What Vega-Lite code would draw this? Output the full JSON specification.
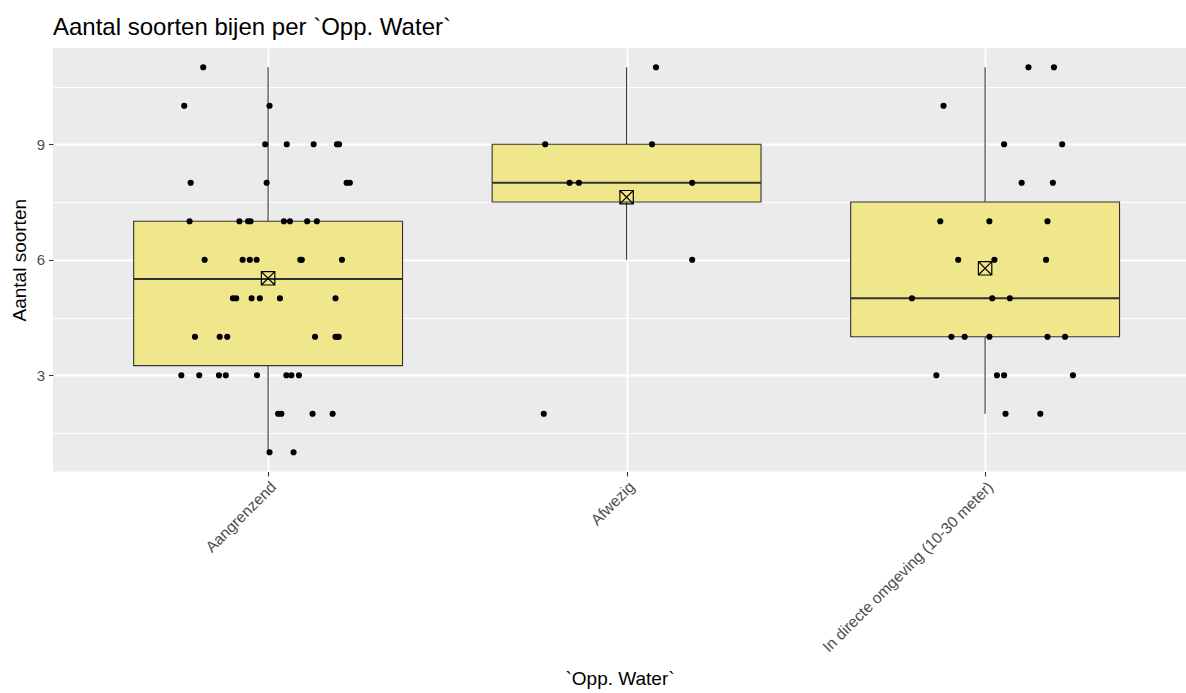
{
  "$schema": "https://vega.github.io/schema/vega-lite/v6.json",
  "width": 1133,
  "height": 423.5,
  "autosize": {"type": "none"},
  "padding": {"left": 53, "top": 48, "right": 0, "bottom": 221.5},
  "background": "white",
  "title": {
    "text": "Aantal soorten bijen per `Opp. Water`",
    "anchor": "start",
    "frame": "group",
    "fontSize": 24,
    "fontWeight": "normal",
    "color": "black",
    "offset": 8
  },
  "datasets": {
    "bees": [
      {"water": "Aangrenzend", "soorten": 11, "jitter": -0.181},
      {"water": "Aangrenzend", "soorten": 10, "jitter": -0.234},
      {"water": "Aangrenzend", "soorten": 10, "jitter": 0.004},
      {"water": "Aangrenzend", "soorten": 9, "jitter": -0.008},
      {"water": "Aangrenzend", "soorten": 9, "jitter": 0.052},
      {"water": "Aangrenzend", "soorten": 9, "jitter": 0.127},
      {"water": "Aangrenzend", "soorten": 9, "jitter": 0.192},
      {"water": "Aangrenzend", "soorten": 9, "jitter": 0.198},
      {"water": "Aangrenzend", "soorten": 8, "jitter": -0.216},
      {"water": "Aangrenzend", "soorten": 8, "jitter": -0.004},
      {"water": "Aangrenzend", "soorten": 8, "jitter": 0.219},
      {"water": "Aangrenzend", "soorten": 8, "jitter": 0.228},
      {"water": "Aangrenzend", "soorten": 7, "jitter": -0.219},
      {"water": "Aangrenzend", "soorten": 7, "jitter": -0.080},
      {"water": "Aangrenzend", "soorten": 7, "jitter": -0.056},
      {"water": "Aangrenzend", "soorten": 7, "jitter": -0.049},
      {"water": "Aangrenzend", "soorten": 7, "jitter": 0.044},
      {"water": "Aangrenzend", "soorten": 7, "jitter": 0.061},
      {"water": "Aangrenzend", "soorten": 7, "jitter": 0.109},
      {"water": "Aangrenzend", "soorten": 7, "jitter": 0.136},
      {"water": "Aangrenzend", "soorten": 6, "jitter": -0.177},
      {"water": "Aangrenzend", "soorten": 6, "jitter": -0.071},
      {"water": "Aangrenzend", "soorten": 6, "jitter": -0.051},
      {"water": "Aangrenzend", "soorten": 6, "jitter": -0.032},
      {"water": "Aangrenzend", "soorten": 6, "jitter": 0.090},
      {"water": "Aangrenzend", "soorten": 6, "jitter": 0.094},
      {"water": "Aangrenzend", "soorten": 6, "jitter": 0.206},
      {"water": "Aangrenzend", "soorten": 5, "jitter": -0.098},
      {"water": "Aangrenzend", "soorten": 5, "jitter": -0.089},
      {"water": "Aangrenzend", "soorten": 5, "jitter": -0.046},
      {"water": "Aangrenzend", "soorten": 5, "jitter": -0.023},
      {"water": "Aangrenzend", "soorten": 5, "jitter": 0.033},
      {"water": "Aangrenzend", "soorten": 5, "jitter": 0.188},
      {"water": "Aangrenzend", "soorten": 4, "jitter": -0.204},
      {"water": "Aangrenzend", "soorten": 4, "jitter": -0.135},
      {"water": "Aangrenzend", "soorten": 4, "jitter": -0.114},
      {"water": "Aangrenzend", "soorten": 4, "jitter": 0.131},
      {"water": "Aangrenzend", "soorten": 4, "jitter": 0.188},
      {"water": "Aangrenzend", "soorten": 4, "jitter": 0.192},
      {"water": "Aangrenzend", "soorten": 4, "jitter": 0.197},
      {"water": "Aangrenzend", "soorten": 3, "jitter": -0.242},
      {"water": "Aangrenzend", "soorten": 3, "jitter": -0.192},
      {"water": "Aangrenzend", "soorten": 3, "jitter": -0.137},
      {"water": "Aangrenzend", "soorten": 3, "jitter": -0.118},
      {"water": "Aangrenzend", "soorten": 3, "jitter": -0.031},
      {"water": "Aangrenzend", "soorten": 3, "jitter": 0.051},
      {"water": "Aangrenzend", "soorten": 3, "jitter": 0.065},
      {"water": "Aangrenzend", "soorten": 3, "jitter": 0.086},
      {"water": "Aangrenzend", "soorten": 2, "jitter": 0.028},
      {"water": "Aangrenzend", "soorten": 2, "jitter": 0.037},
      {"water": "Aangrenzend", "soorten": 2, "jitter": 0.124},
      {"water": "Aangrenzend", "soorten": 2, "jitter": 0.180},
      {"water": "Aangrenzend", "soorten": 1, "jitter": 0.004},
      {"water": "Aangrenzend", "soorten": 1, "jitter": 0.071},
      {"water": "Afwezig", "soorten": 11, "jitter": 0.082},
      {"water": "Afwezig", "soorten": 9, "jitter": -0.227},
      {"water": "Afwezig", "soorten": 9, "jitter": 0.071},
      {"water": "Afwezig", "soorten": 8, "jitter": -0.159},
      {"water": "Afwezig", "soorten": 8, "jitter": -0.133},
      {"water": "Afwezig", "soorten": 8, "jitter": 0.183},
      {"water": "Afwezig", "soorten": 6, "jitter": 0.183},
      {"water": "Afwezig", "soorten": 2, "jitter": -0.231},
      {"water": "In directe omgeving (10-30 meter)", "soorten": 11, "jitter": 0.121},
      {"water": "In directe omgeving (10-30 meter)", "soorten": 11, "jitter": 0.192},
      {"water": "In directe omgeving (10-30 meter)", "soorten": 10, "jitter": -0.116},
      {"water": "In directe omgeving (10-30 meter)", "soorten": 9, "jitter": 0.053},
      {"water": "In directe omgeving (10-30 meter)", "soorten": 9, "jitter": 0.215},
      {"water": "In directe omgeving (10-30 meter)", "soorten": 8, "jitter": 0.102},
      {"water": "In directe omgeving (10-30 meter)", "soorten": 8, "jitter": 0.189},
      {"water": "In directe omgeving (10-30 meter)", "soorten": 7, "jitter": -0.125},
      {"water": "In directe omgeving (10-30 meter)", "soorten": 7, "jitter": 0.012},
      {"water": "In directe omgeving (10-30 meter)", "soorten": 7, "jitter": 0.174},
      {"water": "In directe omgeving (10-30 meter)", "soorten": 6, "jitter": -0.075},
      {"water": "In directe omgeving (10-30 meter)", "soorten": 6, "jitter": 0.026},
      {"water": "In directe omgeving (10-30 meter)", "soorten": 6, "jitter": 0.170},
      {"water": "In directe omgeving (10-30 meter)", "soorten": 5, "jitter": -0.204},
      {"water": "In directe omgeving (10-30 meter)", "soorten": 5, "jitter": 0.020},
      {"water": "In directe omgeving (10-30 meter)", "soorten": 5, "jitter": 0.069},
      {"water": "In directe omgeving (10-30 meter)", "soorten": 4, "jitter": -0.094},
      {"water": "In directe omgeving (10-30 meter)", "soorten": 4, "jitter": -0.057},
      {"water": "In directe omgeving (10-30 meter)", "soorten": 4, "jitter": 0.012},
      {"water": "In directe omgeving (10-30 meter)", "soorten": 4, "jitter": 0.174},
      {"water": "In directe omgeving (10-30 meter)", "soorten": 4, "jitter": 0.223},
      {"water": "In directe omgeving (10-30 meter)", "soorten": 3, "jitter": -0.136},
      {"water": "In directe omgeving (10-30 meter)", "soorten": 3, "jitter": 0.033},
      {"water": "In directe omgeving (10-30 meter)", "soorten": 3, "jitter": 0.053},
      {"water": "In directe omgeving (10-30 meter)", "soorten": 3, "jitter": 0.245},
      {"water": "In directe omgeving (10-30 meter)", "soorten": 2, "jitter": 0.057},
      {"water": "In directe omgeving (10-30 meter)", "soorten": 2, "jitter": 0.154}
    ]
  },
  "layer": [
    {
      "data": {"name": "bees"},
      "transform": [
        {"joinaggregate": [
          {"op": "q1", "field": "soorten", "as": "q1"},
          {"op": "median", "field": "soorten", "as": "median"},
          {"op": "q3", "field": "soorten", "as": "q3"}
        ], "groupby": ["water"]},
        {"filter": "datum.soorten >= datum.q1 - 1.5 * (datum.q3 - datum.q1) && datum.soorten <= datum.q3 + 1.5 * (datum.q3 - datum.q1)"},
        {"aggregate": [
          {"op": "min", "field": "soorten", "as": "lower"},
          {"op": "max", "field": "soorten", "as": "upper"},
          {"op": "max", "field": "q1", "as": "q1"},
          {"op": "max", "field": "median", "as": "median"},
          {"op": "max", "field": "q3", "as": "q3"}
        ], "groupby": ["water"]},
        {"calculate": "indexof(['Aangrenzend', 'Afwezig', 'In directe omgeving (10-30 meter)'], datum.water) + 1", "as": "pos"},
        {"calculate": "datum.pos - 0.375", "as": "left"},
        {"calculate": "datum.pos + 0.375", "as": "right"}
      ],
      "layer": [
        {
          "mark": {"type": "rule", "color": "#333333", "strokeWidth": 1.1},
          "encoding": {
            "x": {
              "field": "pos", "type": "quantitative",
              "scale": {"domain": [0.4, 3.5604], "nice": false, "zero": false},
              "title": "`Opp. Water`",
              "axis": {
                "values": [1, 2, 3],
                "labelExpr": "datum.value === 1 ? 'Aangrenzend' : datum.value === 2 ? 'Afwezig' : 'In directe omgeving (10-30 meter)'",
                "labelAngle": -45,
                "labelAlign": "right",
                "labelBaseline": "top",
                "labelFontSize": 15.5,
                "labelPadding": 3,
                "labelLimit": 0,
                "labelOverlap": false,
                "labelBound": false,
                "labelFlush": false,
                "tickSize": 4.5,
                "tickWidth": 1.1,
                "gridWidth": 2,
                "titleFontSize": 19,
                "titlePadding": 14
              }
            },
            "y": {
              "field": "lower", "type": "quantitative",
              "scale": {"domain": [0.5, 11.5], "nice": false, "zero": false},
              "title": "Aantal soorten",
              "axis": {
                "values": [1.5, 3, 4.5, 6, 7.5, 9, 10.5],
                "labelExpr": "datum.value % 3 === 0 ? datum.label : ''",
                "gridWidth": {"condition": {"test": "datum.value % 3 === 0", "value": 2}, "value": 1},
                "tickOpacity": {"condition": {"test": "datum.value % 3 === 0", "value": 1}, "value": 0},
                "labelFontSize": 15,
                "labelPadding": 4,
                "tickSize": 4.5,
                "tickWidth": 1.1,
                "titleFontSize": 19,
                "titlePadding": 7
              }
            },
            "y2": {"field": "upper"}
          }
        },
        {
          "mark": {"type": "bar", "fill": "#F0E68C", "stroke": "#333333", "strokeWidth": 1.1},
          "encoding": {
            "x": {"field": "left", "type": "quantitative", "title": "`Opp. Water`"},
            "x2": {"field": "right"},
            "y": {"field": "q1", "type": "quantitative", "title": "Aantal soorten"},
            "y2": {"field": "q3"}
          }
        },
        {
          "mark": {"type": "rule", "color": "#333333", "strokeWidth": 2.2},
          "encoding": {
            "x": {"field": "left", "type": "quantitative", "title": "`Opp. Water`"},
            "x2": {"field": "right"},
            "y": {"field": "median", "type": "quantitative", "title": "Aantal soorten"}
          }
        }
      ]
    },
    {
      "data": {"name": "bees"},
      "transform": [
        {"calculate": "indexof(['Aangrenzend', 'Afwezig', 'In directe omgeving (10-30 meter)'], datum.water) + 1 + datum.jitter", "as": "xpos"}
      ],
      "mark": {"type": "circle", "size": 38, "color": "black", "opacity": 1},
      "encoding": {
        "x": {"field": "xpos", "type": "quantitative", "title": "`Opp. Water`"},
        "y": {"field": "soorten", "type": "quantitative", "title": "Aantal soorten"}
      }
    },
    {
      "data": {"name": "bees"},
      "transform": [
        {"aggregate": [{"op": "mean", "field": "soorten", "as": "gemiddelde"}], "groupby": ["water"]},
        {"calculate": "indexof(['Aangrenzend', 'Afwezig', 'In directe omgeving (10-30 meter)'], datum.water) + 1", "as": "pos"}
      ],
      "mark": {
        "type": "point",
        "shape": "M-1,-1H1V1H-1Z M-1,-1L1,1 M1,-1L-1,1",
        "size": 180,
        "filled": false,
        "stroke": "black",
        "strokeWidth": 1.2,
        "opacity": 1
      },
      "encoding": {
        "x": {"field": "pos", "type": "quantitative", "title": "`Opp. Water`"},
        "y": {"field": "gemiddelde", "type": "quantitative", "title": "Aantal soorten"}
      }
    }
  ],
  "config": {
    "font": "Liberation Sans",
    "view": {"fill": "#EBEBEB", "stroke": null},
    "axis": {
      "domain": false,
      "gridColor": "white",
      "tickColor": "#333333",
      "labelColor": "#4D4D4D",
      "labelFont": "Liberation Sans",
      "titleFont": "Liberation Sans",
      "titleColor": "black",
      "titleFontWeight": "normal"
    }
  }
}
